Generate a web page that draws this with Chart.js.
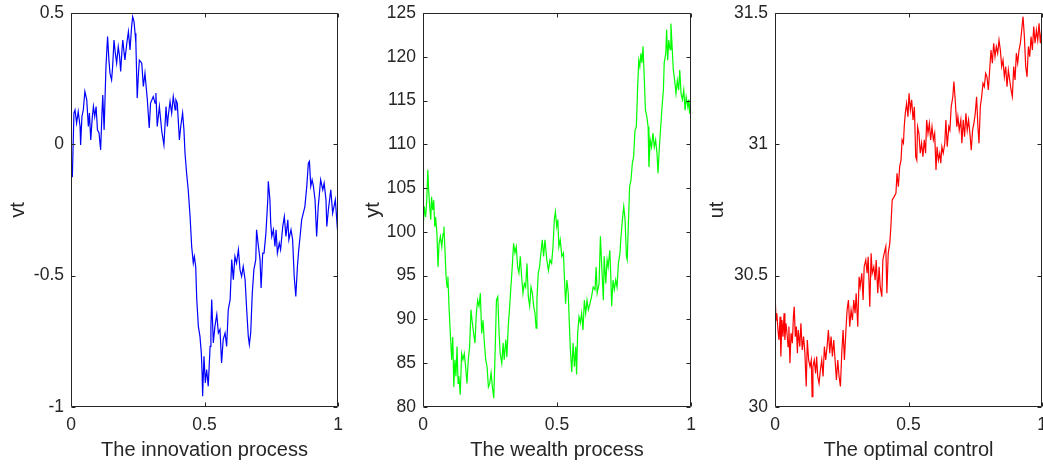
<!DOCTYPE html>
<html>
<head>
<meta charset="utf-8">
<script src="https://cdn.jsdelivr.net/npm/chart.js@4.4.1/dist/chart.umd.min.js"></script>
<style>
  html, body { margin: 0; padding: 0; background: #ffffff; overflow: hidden; width: 1043px; height: 464px; }
  .wrap { position: absolute; top: 0; height: 464px; }
  canvas { display: block; }
</style>
</head>
<body>
<div class="wrap" id="w1" style="left:0px;width:345px;"><canvas id="c1"></canvas></div>
<div class="wrap" id="w2" style="left:352px;width:348px;"><canvas id="c2"></canvas></div>
<div class="wrap" id="w3" style="left:704px;width:349px;"><canvas id="c3"></canvas></div>
<script>
// ---------------- DATA (time t in [0,1], value) ----------------
const xTicks = [0, 0.5, 1];

const innovationTicks = [-1, -0.5, 0, 0.5];
const innovation = [
[0,-0.06],[.005,-.125],[.011,.119],[.015,.131],[.021,.081],[.027,.125],[.034,.068],[.036,-.002],[.041,.106],[.046,.131],
[.052,.201],[.059,.169],[.065,.068],[.069,.119],[.074,.017],[.079,.093],[.084,.144],[.089,.106],[.094,.144],[.099,.055],
[.105,.043],[.111,-.021],[.116,.119],[.119,.188],[.124,.055],[.131,.296],[.137,.41],[.142,.321],[.146,.271],[.152,.245],
[.156,.296],[.161,.397],[.166,.347],[.171,.309],[.177,.372],[.182,.334],[.186,.277],[.191,.359],[.194,.397],[.199,.347],
[.202,.321],[.209,.385],[.215,.429],[.221,.359],[.227,.448],[.231,.486],[.236,.467],[.24,.423],[.243,.385],[.248,.176],
[.252,.258],[.256,.321],[.265,.309],[.271,.22],[.277,.271],[.286,.169],[.293,.062],[.298,.157],[.308,.182],[.315,.157],
[.318,.195],[.323,.068],[.331,.144],[.34,.049],[.348,-.002],[.356,.144],[.361,.068],[.364,.106],[.371,.163],[.377,.119],
[.383,.182],[.39,.131],[.393,.169],[.398,.157],[.406,.017],[.411,.068],[.418,.119],[.423,.055],[.427,-.033],[.433,-.11],
[.439,-.173],[.446,-.275],[.452,-.389],[.458,-.452],[.462,-.427],[.467,-.465],[.471,-.591],[.477,-.693],[.483,-.731],[.488,-.794],
[.491,-.87],[.493,-.959],[.498,-.807],[.503,-.908],[.508,-.857],[.514,-.921],[.521,-.769],[.524,-.693],[.527,-.591],[.533,-.756],
[.539,-.693],[.546,-.648],[.552,-.718],[.558,-.705],[.564,-.832],[.57,-.743],[.577,-.718],[.583,-.769],[.589,-.629],[.596,-.591],
[.602,-.439],[.608,-.515],[.614,-.427],[.62,-.452],[.627,-.401],[.633,-.477],[.639,-.503],[.645,-.465],[.652,-.515],[.658,-.629],
[.664,-.731],[.668,-.762],[.673,-.718],[.679,-.566],[.685,-.477],[.692,-.439],[.695,-.325],[.702,-.389],[.708,-.439],[.712,-.547],
[.718,-.414],[.723,-.414],[.73,-.338],[.737,-.211],[.739,-.141],[.745,-.211],[.748,-.3],[.752,-.351],[.758,-.325],[.764,-.389],
[.768,-.325],[.773,-.414],[.78,-.376],[.785,-.401],[.793,-.313],[.799,-.275],[.805,-.351],[.812,-.287],[.816,-.363],[.824,-.325],
[.83,-.363],[.836,-.503],[.842,-.579],[.848,-.465],[.853,-.401],[.858,-.351],[.864,-.287],[.87,-.262],[.876,-.237],[.883,-.16],
[.889,-.072],[.893,-.065],[.898,-.16],[.903,-.135],[.908,-.16],[.914,-.211],[.92,-.351],[.926,-.237],[.935,-.135],[.943,-.173],
[.948,-.148],[.955,-.211],[.958,-.313],[.964,-.249],[.973,-.173],[.98,-.262],[.985,-.237],[.99,-.211],[.998,-.325],[1,-.33]
];

const wealthTicks = [80, 85, 90, 95, 100, 105, 110, 115, 120, 125];
const wealth = [
[0,100.2],[.005,102.9],[.010,101.7],[.014,103.6],[.018,107.1],[.021,104.8],[.025,102.9],[.029,101.4],[.032,104.0],[.036,102.5],
[.040,103.6],[.044,100.6],[.047,101.7],[.052,99.8],[.056,96.0],[.060,98.7],[.065,99.5],[.070,98.3],[.075,99.8],[.078,100.6],
[.082,97.9],[.086,94.9],[.090,93.7],[.093,94.9],[.097,91.5],[.102,88.4],[.107,85.4],[.111,88.0],[.115,82.3],[.119,85.4],
[.123,83.5],[.127,86.9],[.131,82.7],[.134,83.5],[.139,81.4],[.144,86.1],[.149,85.4],[.154,86.1],[.159,84.6],[.164,82.7],
[.169,85.4],[.174,86.9],[.179,91.1],[.184,89.6],[.189,88.4],[.194,87.3],[.199,90.7],[.204,92.2],[.209,91.5],[.214,93.0],
[.219,88.4],[.224,89.9],[.229,87.3],[.234,85.4],[.239,84.6],[.244,82.3],[.249,82.7],[.254,83.9],[.259,82.3],[.264,81.0],
[.269,86.1],[.274,92.2],[.279,92.6],[.284,88.4],[.288,86.1],[.294,85.0],[.299,87.3],[.303,85.4],[.309,87.7],[.313,85.7],
[.318,89.2],[.324,91.8],[.328,93.7],[.333,96.0],[.338,98.7],[.343,97.6],[.348,98.3],[.353,96.0],[.358,95.3],[.363,97.2],
[.368,94.9],[.373,93.0],[.378,94.1],[.383,93.7],[.388,96.4],[.393,92.6],[.398,91.5],[.403,93.7],[.408,93.0],[.413,91.5],
[.418,90.7],[.422,89.0],[.425,92.2],[.430,95.3],[.435,96.0],[.440,97.6],[.445,99.1],[.450,97.2],[.455,99.1],[.462,96.8],
[.468,95.6],[.474,96.8],[.480,96.4],[.485,98.3],[.490,101.4],[.494,102.3],[.499,100.6],[.503,101.4],[.507,98.3],[.512,99.1],
[.518,97.2],[.524,97.6],[.527,95.3],[.532,91.8],[.537,94.5],[.542,93.0],[.546,89.6],[.550,86.5],[.555,84.0],[.560,87.3],
[.565,84.6],[.570,86.9],[.573,83.7],[.577,88.4],[.582,90.3],[.587,89.6],[.592,90.7],[.597,88.8],[.602,92.2],[.607,90.7],
[.612,92.2],[.617,91.1],[.623,91.8],[.629,92.6],[.635,93.7],[.642,93.4],[.646,96.0],[.650,93.0],[.657,94.1],[.662,99.5],
[.667,96.0],[.673,92.2],[.676,97.2],[.682,94.1],[.687,96.8],[.691,96.0],[.697,97.9],[.700,95.6],[.704,91.5],[.709,94.5],
[.714,93.4],[.719,94.5],[.724,93.7],[.729,96.4],[.735,97.6],[.739,99.5],[.744,101.4],[.749,102.9],[.754,101.4],[.759,97.2],
[.762,96.8],[.766,100.6],[.771,105.2],[.776,105.9],[.781,107.8],[.786,108.6],[.791,111.6],[.796,112.0],[.801,116.6],[.805,119.6],
[.809,118.9],[.813,120.4],[.817,119.3],[.821,121.2],[.825,118.1],[.830,113.9],[.835,113.2],[.840,112.0],[.843,107.4],[.848,110.5],
[.853,109.7],[.858,111.3],[.863,109.7],[.868,110.5],[.873,109.0],[.877,106.7],[.882,109.7],[.887,112.0],[.892,114.3],[.897,116.2],
[.900,119.3],[.906,120.4],[.909,123.1],[.913,119.6],[.917,121.9],[.922,120.8],[.925,123.8],[.929,121.5],[.934,118.5],[.939,117.3],
[.944,115.8],[.949,117.3],[.954,116.2],[.958,118.5],[.963,115.8],[.968,115.1],[.973,116.2],[.978,113.9],[.982,115.4],[.988,114.3],
[.991,115.1],[.995,113.5],[1,116.2]
];

const controlTicks = [30, 30.5, 31, 31.5];
const control = [
[0,30.433],[.004,30.331],[.007,30.357],[.011,30.293],[.015,30.255],[.019,30.344],[.022,30.192],[.026,30.331],[.030,30.268],[.034,30.357],
[.037,30.255],[.041,30.319],[.045,30.281],[.049,30.23],[.052,30.306],[.056,30.167],[.060,30.281],[.065,30.243],[.069,30.344],[.072,30.382],
[.076,30.268],[.080,30.306],[.084,30.205],[.087,30.293],[.093,30.23],[.097,30.319],[.102,30.217],[.107,30.268],[.112,30.205],[.117,30.078],
[.121,30.255],[.126,30.179],[.131,30.154],[.136,30.179],[.139,30.039],[.142,30.154],[.147,30.179],[.152,30.128],[.156,30.192],[.160,30.116],
[.165,30.09],[.170,30.141],[.175,30.179],[.180,30.116],[.185,30.23],[.190,30.179],[.195,30.23],[.200,30.293],[.205,30.205],[.210,30.268],
[.215,30.192],[.220,30.255],[.225,30.179],[.230,30.103],[.235,30.179],[.240,30.116],[.245,30.078],[.250,30.205],[.255,30.293],[.260,30.179],
[.265,30.281],[.270,30.369],[.275,30.407],[.280,30.306],[.285,30.369],[.290,30.331],[.295,30.407],[.300,30.357],[.304,30.433],[.310,30.306],
[.315,30.496],[.319,30.458],[.325,30.509],[.330,30.407],[.334,30.534],[.340,30.56],[.345,30.509],[.349,30.572],[.355,30.382],[.360,30.585],
[.364,30.509],[.370,30.534],[.375,30.483],[.379,30.56],[.385,30.433],[.390,30.534],[.394,30.458],[.400,30.42],[.404,30.56],[.409,30.585],
[.415,30.611],[.419,30.433],[.424,30.585],[.430,30.623],[.434,30.687],[.439,30.788],[.446,30.80],[.453,30.814],[.457,30.89],[.462,30.839],
[.467,30.915],[.472,30.94],[.476,31.017],[.481,31.004],[.484,31.067],[.488,31.118],[.493,31.156],[.498,31.105],[.502,31.194],[.507,31.131],
[.512,31.169],[.517,31.093],[.522,31.143],[.527,30.953],[.531,30.94],[.534,31.067],[.539,31.042],[.544,30.966],[.549,31.004],[.554,30.953],
[.559,31.017],[.564,30.966],[.568,31.093],[.573,31.042],[.578,31.08],[.583,31.017],[.588,31.067],[.593,31.017],[.598,31.042],[.603,30.902],
[.607,30.991],[.612,30.94],[.617,30.966],[.621,30.928],[.625,30.991],[.630,30.966],[.636,31.004],[.640,31.093],[.645,30.991],[.651,31.067],
[.655,31.054],[.660,31.143],[.666,31.181],[.670,31.239],[.675,31.169],[.681,31.067],[.685,31.105],[.690,31.054],[.696,31.093],[.700,31.004],
[.705,31.093],[.710,31.029],[.715,31.118],[.720,31.054],[.725,31.093],[.730,31.042],[.735,30.978],[.740,31.054],[.745,31.08],[.750,31.118],
[.755,31.181],[.760,31.067],[.764,31.004],[.769,31.143],[.774,31.181],[.779,31.232],[.784,31.219],[.789,31.27],[.794,31.257],[.799,31.207],
[.804,31.283],[.809,31.359],[.814,31.309],[.819,31.385],[.824,31.334],[.829,31.372],[.834,31.347],[.839,31.397],[.844,31.359],[.849,31.296],
[.854,31.321],[.859,31.257],[.864,31.296],[.869,31.219],[.874,31.283],[.879,31.245],[.884,31.207],[.889,31.181],[.894,31.296],[.899,31.245],
[.904,31.347],[.909,31.309],[.914,31.359],[.919,31.385],[.924,31.435],[.929,31.486],[.934,31.41],[.939,31.296],[.944,31.257],[.949,31.372],
[.954,31.334],[.959,31.41],[.964,31.359],[.969,31.448],[.974,31.385],[.979,31.435],[.984,31.397],[.989,31.461],[.994,31.385],[1,31.448]
];

// ---------------- RENDERING ----------------
const TXT = '#262626';
const FONT = 'Liberation Sans, Arial, Helvetica, sans-serif';

const boxPlugin = {
  id: 'matlabBox',
  afterDatasetsDraw(chart) {
    const { ctx, chartArea: { left, top, right, bottom }, scales: { x, y } } = chart;
    ctx.save();
    ctx.strokeStyle = TXT;
    ctx.lineWidth = 1;
    const L = Math.round(left) + 0.5, R = Math.round(right) - 0.5;
    const T = Math.round(top) + 0.5, B = Math.round(bottom) - 0.5;
    ctx.beginPath();
    ctx.rect(L, T, R - L, B - T);
    const tl = 4;
    x.ticks.forEach(t => {
      const p = Math.round(x.getPixelForValue(t.value)) + 0.5;
      ctx.moveTo(p, B); ctx.lineTo(p, B - tl);
      ctx.moveTo(p, T); ctx.lineTo(p, T + tl);
    });
    y.ticks.forEach(t => {
      const p = Math.round(y.getPixelForValue(t.value)) + 0.5;
      ctx.moveTo(L, p); ctx.lineTo(L + tl, p);
      ctx.moveTo(R, p); ctx.lineTo(R - tl, p);
    });
    ctx.stroke();
    ctx.restore();
  }
};

const fmt = v => String(Math.round(v * 1000) / 1000);

function makeChart(id, series, color, yTicks, yTitle, xTitle, rightPad, yTitlePad) {
  const yMin = yTicks[0], yMax = yTicks[yTicks.length - 1];
  return new Chart(document.getElementById(id), {
    type: 'line',
    data: {
      datasets: [{
        data: series.map(p => ({ x: p[0], y: p[1] })),
        borderColor: color,
        borderWidth: 1.2,
        pointRadius: 0,
        tension: 0,
        fill: false
      }]
    },
    options: {
      responsive: true,
      maintainAspectRatio: false,
      animation: false,
      events: [],
      layout: { padding: { left: 0, right: rightPad, top: 13, bottom: 0 } },
      plugins: { legend: { display: false }, tooltip: { enabled: false }, title: { display: false } },
      scales: {
        x: {
          type: 'linear',
          min: xTicks[0], max: xTicks[xTicks.length - 1],
          afterBuildTicks: s => { s.ticks = xTicks.map(v => ({ value: v })); },
          afterFit: s => { s.height = 57; s.paddingLeft = 0; s.paddingRight = 0; },
          grid: { display: false, drawTicks: false },
          border: { display: false },
          ticks: { color: TXT, font: { family: FONT, size: 17.5 }, padding: 8, maxRotation: 0, autoSkip: false, callback: v => fmt(v) },
          title: { display: true, text: xTitle, color: TXT, font: { family: FONT, size: 20, lineHeight: 1 }, padding: { top: 0, bottom: 4 } }
        },
        y: {
          type: 'linear',
          min: yMin, max: yMax,
          afterBuildTicks: s => { s.ticks = yTicks.map(v => ({ value: v })); },
          afterFit: s => { s.width = 71; s.paddingTop = 0; s.paddingBottom = 0; },
          grid: { display: false, drawTicks: false },
          border: { display: false },
          ticks: { color: TXT, font: { family: FONT, size: 17.5 }, padding: 7, autoSkip: false, callback: v => fmt(v) },
          title: { display: true, text: yTitle, color: TXT, font: { family: FONT, size: 20, lineHeight: 1 }, padding: { top: yTitlePad, bottom: 0 } }
        }
      }
    },
    plugins: [boxPlugin]
  });
}

makeChart('c1', innovation, '#0000ff', innovationTicks, 'vt', 'The innovation process', 7, 8);
makeChart('c2', wealth, '#00ff00', wealthTicks, 'yt', 'The wealth process', 9, 11);
makeChart('c3', control, '#ff0000', controlTicks, 'ut', 'The optimal control', 11, 3);
</script>
</body>
</html>
